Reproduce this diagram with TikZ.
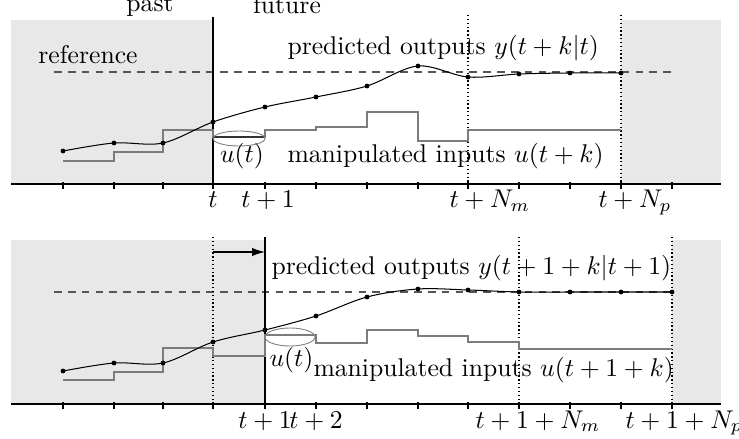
\documentclass[tikz,border=0pt]{standalone}
\usepackage{amsmath}
\usetikzlibrary{arrows.meta, positioning}
\definecolor{hshade}{HTML}{E8E8E8}
\definecolor{hinput}{HTML}{7C7C7C}
\definecolor{hrefline}{HTML}{555555}
\tikzset{
  horizon/.style={fill=hshade, draw=none},
  axisline/.style={line width=0.45pt, black},
  nowline/.style={line width=0.55pt, black},
  refline/.style={line width=0.45pt, hrefline, dash pattern=on 3pt off 2.4pt},
  bound/.style={line width=0.5pt, black, densely dotted},
  ycurve/.style={line width=0.4pt, black},
  ucurve/.style={line width=0.5pt, hinput},
  uring/.style={line width=0.35pt, gray},
  lbl/.style={anchor=base, inner sep=0pt},
  lblw/.style={anchor=base west, inner sep=0pt},
  shiftarr/.style={-{Latex[length=5pt, width=3.2pt]}, line width=0.5pt},
}

\begin{document}
\begin{tikzpicture}[x=0.39pt, y=-0.39pt, every node/.style={font=\normalsize}]
  \useasboundingbox (0,0) rectangle (739,438);

  %% Panel 1: horizon starting at t
  \fill[horizon] (11,20) rectangle (213,184);
  \fill[horizon] (621,20) rectangle (721,184);
  \node[lbl] (past) at (150,12) {past};
  \node[lbl] (future) at (287,14) {future};
  \node[lbl] (ref1) at (88,64) {reference};
  \draw[refline] (54,72) -- (675,72);
  % time axis with ticks
  \draw[axisline] (11,184) -- (721,184);
  \foreach \x in {63,114,163,213,265,316,367,418,468,519,570,621,672}{
    \draw[axisline] (\x,182) -- (\x,189);
  }
  \draw[nowline] (213,17) -- (213,184);
  \draw[bound] (468,15) -- (468,184);
  \draw[bound] (621,15) -- (621,184);
  % manipulated inputs
  \draw[ucurve] (63,161) -| (114,152) -| (163,130) -| (213,137) -| (265,130)
    -| (316,127) -| (367,112) -| (418,141) -| (468,130) -- (621,130);
  \draw[line width=0.5pt, black!80] (213,137) -- (265,137);
  \draw[uring] (239,138.5) ellipse [x radius=26, y radius=7.5];
  % predicted outputs
  \draw[ycurve] plot[smooth, tension=0.55] coordinates {(63,151) (114,143) (163,143)
    (213,122) (265,107) (316,97) (367,86) (418,66) (468,77) (519,74) (570,73) (621,73)};
  \foreach \x/\y in {63/151, 114/143, 163/143, 213/122, 265/107, 316/97, 367/86,
                     418/66, 468/77, 519/74, 570/73, 621/73}{
    \fill (\x,\y) circle (2.4);
  }
  \node[lblw] (pred1) at (287,55) {predicted outputs $y(t+k|t)$};
  \node[lblw] (manip1) at (287,163) {manipulated inputs $u(t+k)$};
  \node[lbl] (ut1) at (242,163) {$u(t)$};
  % tick labels
  \node[lbl] (t1) at (213,208) {$t$};
  \node[lbl] (tp1) at (268,208) {$t+1$};
  \node[lblw] (tnm1) at (449,208) {$t+N_m$};
  \node[lblw] (tnp1) at (598,208) {$t+N_p$};

  %% Panel 2: horizon shifted to t+1
  \fill[horizon] (11,240) rectangle (265,404);
  \fill[horizon] (672,240) rectangle (721,404);
  \draw[refline] (54,292) -- (675,292);
  \draw[axisline] (11,404) -- (721,404);
  \foreach \x in {63,114,163,213,265,316,367,418,468,519,570,621,672}{
    \draw[axisline] (\x,402) -- (\x,409);
  }
  \draw[nowline] (265,237) -- (265,404);
  \draw[bound] (213,237) -- (213,404);
  \draw[bound] (519,237) -- (519,404);
  \draw[bound] (672,237) -- (672,404);
  % receding horizon shift
  \coordinate (shiftA) at (213,252);
  \coordinate (shiftB) at (265,252);
  \draw[shiftarr] (shiftA) -- (shiftB);
  % manipulated inputs
  \draw[ucurve] (63,380) -| (114,372) -| (163,348) -| (213,356) -| (265,335)
    -| (316,343) -| (367,330) -| (418,336) -| (468,342) -| (519,349) -- (672,349);
  \draw[uring] (290,337) ellipse [x radius=25, y radius=9];
  % predicted outputs
  \draw[ycurve] plot[smooth, tension=0.55] coordinates {(63,371) (114,363) (163,363)
    (213,342) (265,330) (316,316) (367,297) (418,289) (468,290) (519,292) (570,292)
    (621,292) (672,292)};
  \foreach \x/\y in {63/371, 114/363, 163/363, 213/342, 265/330, 316/316, 367/297,
                     418/289, 468/290, 519/292, 570/292, 621/292, 672/292}{
    \fill (\x,\y) circle (2.4);
  }
  \node[lblw] (pred2) at (271,274) {predicted outputs $y(t+1+k|t+1)$};
  \node[lblw] (manip2) at (313,376) {manipulated inputs $u(t+1+k)$};
  \node[lblw] (ut2) at (269,366) {$u(t)$};
  % tick labels
  \node[lbl] (tp2a) at (265,428) {$t+1$};
  \node[lbl] (tp2b) at (316,428) {$t+2$};
  \node[lblw] (tnm2) at (475,428) {$t+1+N_m$};
  \node[lblw] (tnp2) at (625,428) {$t+1+N_p$};
\end{tikzpicture}
\end{document}
